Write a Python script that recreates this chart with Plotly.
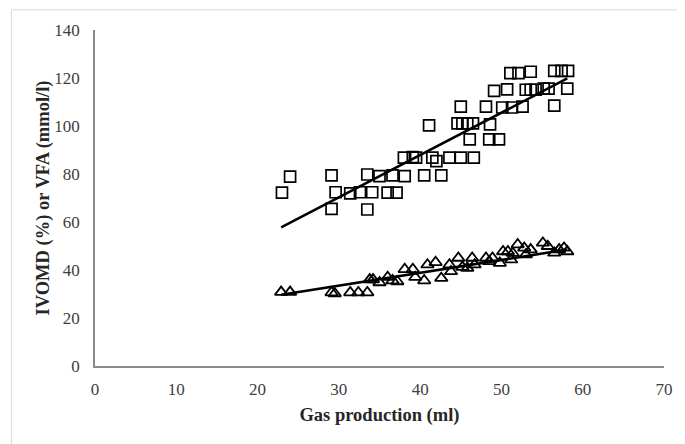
import plotly.graph_objects as go

# IVOMD (squares)
ivomd_x = [23.0, 24.0, 29.1, 29.6, 29.1, 31.4, 32.6, 33.5, 34.1, 33.5, 35.0, 36.0, 37.1, 36.6,
           38.1, 38.0, 39.1, 39.5, 40.5, 41.1, 41.5, 42.0, 42.6, 43.6, 45.0, 46.6, 45.0, 44.6,
           45.2, 45.8, 46.5, 46.1, 48.1, 48.6, 48.5, 49.7, 49.1, 50.7, 50.1, 51.3, 52.6, 51.1,
           52.1, 53.6, 53.0, 53.6, 54.2, 55.2, 55.8, 56.5, 56.5, 57.4, 58.2, 58.1]
ivomd_y = [72.2, 78.9, 79.4, 72.4, 65.5, 71.9, 72.4, 79.8, 72.4, 65.2, 79.1, 72.2, 72.2, 79.4,
           79.1, 86.8, 87.0, 86.8, 79.4, 100.3, 86.8, 85.4, 79.4, 86.8, 86.8, 86.8, 108.1, 101.1,
           101.1, 101.1, 101.1, 94.4, 108.1, 100.7, 94.4, 94.4, 114.6, 115.3, 107.7, 107.7, 108.1, 122.0,
           122.0, 122.6, 115.1, 115.1, 115.1, 115.6, 115.6, 108.5, 123.0, 123.0, 123.0, 115.6]

# VFA (triangles)
vfa_x = [22.9, 24.0, 29.1, 29.5, 31.4, 32.4, 33.5, 33.8, 34.2, 35.0, 36.0, 36.6, 37.2, 38.1, 39.1,
         39.4, 40.5, 40.9, 41.9, 42.6, 43.6, 43.8, 44.7, 45.2, 45.8, 46.4, 46.7, 48.1, 48.5, 48.9,
         49.8, 50.2, 50.8, 51.2, 51.4, 52.0, 52.8, 53.0, 53.6, 55.1, 55.7, 56.5, 57.1, 57.7, 58.1]
vfa_y = [30.8, 30.8, 30.6, 30.2, 30.6, 30.6, 30.6, 36.0, 36.0, 34.8, 37.0, 35.6, 35.2, 40.3, 40.3,
         37.0, 35.6, 42.2, 43.2, 36.6, 42.2, 39.4, 45.0, 41.2, 40.8, 45.0, 42.2, 45.0, 43.6, 45.0,
         42.9, 47.7, 47.7, 44.3, 47.0, 50.6, 49.2, 46.4, 48.5, 51.3, 49.9, 47.1, 48.5, 49.2, 47.7]

# Linear trend lines (end points)
ivomd_trend_x = [22.9, 58.1]
ivomd_trend_y = [57.8, 119.8]
vfa_trend_x = [22.9, 58.1]
vfa_trend_y = [29.7, 48.5]

x_ticks = [0, 10, 20, 30, 40, 50, 60, 70]
y_ticks = [0, 20, 40, 60, 80, 100, 120, 140]

FONT = "Liberation Serif"

fig = go.Figure()
fig.add_trace(go.Scatter(x=ivomd_x, y=ivomd_y, mode="markers",
                         marker=dict(symbol="square-open", size=11, color="black",
                                     line=dict(width=1.7, color="black")),
                         showlegend=False))
fig.add_trace(go.Scatter(x=vfa_x, y=vfa_y, mode="markers",
                         marker=dict(symbol="triangle-up-open", size=11, color="black",
                                     line=dict(width=1.8, color="black")),
                         showlegend=False))
fig.add_trace(go.Scatter(x=ivomd_trend_x, y=ivomd_trend_y, mode="lines",
                         line=dict(color="black", width=2.5), showlegend=False))
fig.add_trace(go.Scatter(x=vfa_trend_x, y=vfa_trend_y, mode="lines",
                         line=dict(color="black", width=2.5), showlegend=False))

fig.add_shape(type="rect", xref="paper", yref="paper",
              x0=-0.147, x1=1.3, y0=-0.5, y1=1.06,
              line=dict(color="#d9d9d9", width=1), fillcolor="rgba(0,0,0,0)", layer="below")

fig.update_layout(
    width=677, height=436,
    margin=dict(l=87, r=18, t=22, b=78),
    paper_bgcolor="white", plot_bgcolor="white",
    font=dict(family=FONT, size=17, color="#404040"),
    xaxis=dict(range=[0, 70], tickvals=x_ticks, showgrid=False, zeroline=False,
               showline=True, linecolor="#8c8c8c", linewidth=1.5, ticks="",
               ticklabelstandoff=7,
               tickfont=dict(family=FONT, size=17, color="#404040"),
               title=dict(text="<b>Gas production (ml)</b>", standoff=10,
                          font=dict(family=FONT, size=18.5, color="#262626"))),
    yaxis=dict(range=[0, 140], tickvals=y_ticks, showgrid=False, zeroline=False,
               showline=True, linecolor="#8c8c8c", linewidth=1.5, ticks="",
               ticklabelstandoff=10,
               tickfont=dict(family=FONT, size=17, color="#404040"),
               title=dict(text="<b>IVOMD (%) or VFA (mmol/l)</b>", standoff=0,
                          font=dict(family=FONT, size=18.5, color="#262626"))),
)

fig.write_html("out.html")
